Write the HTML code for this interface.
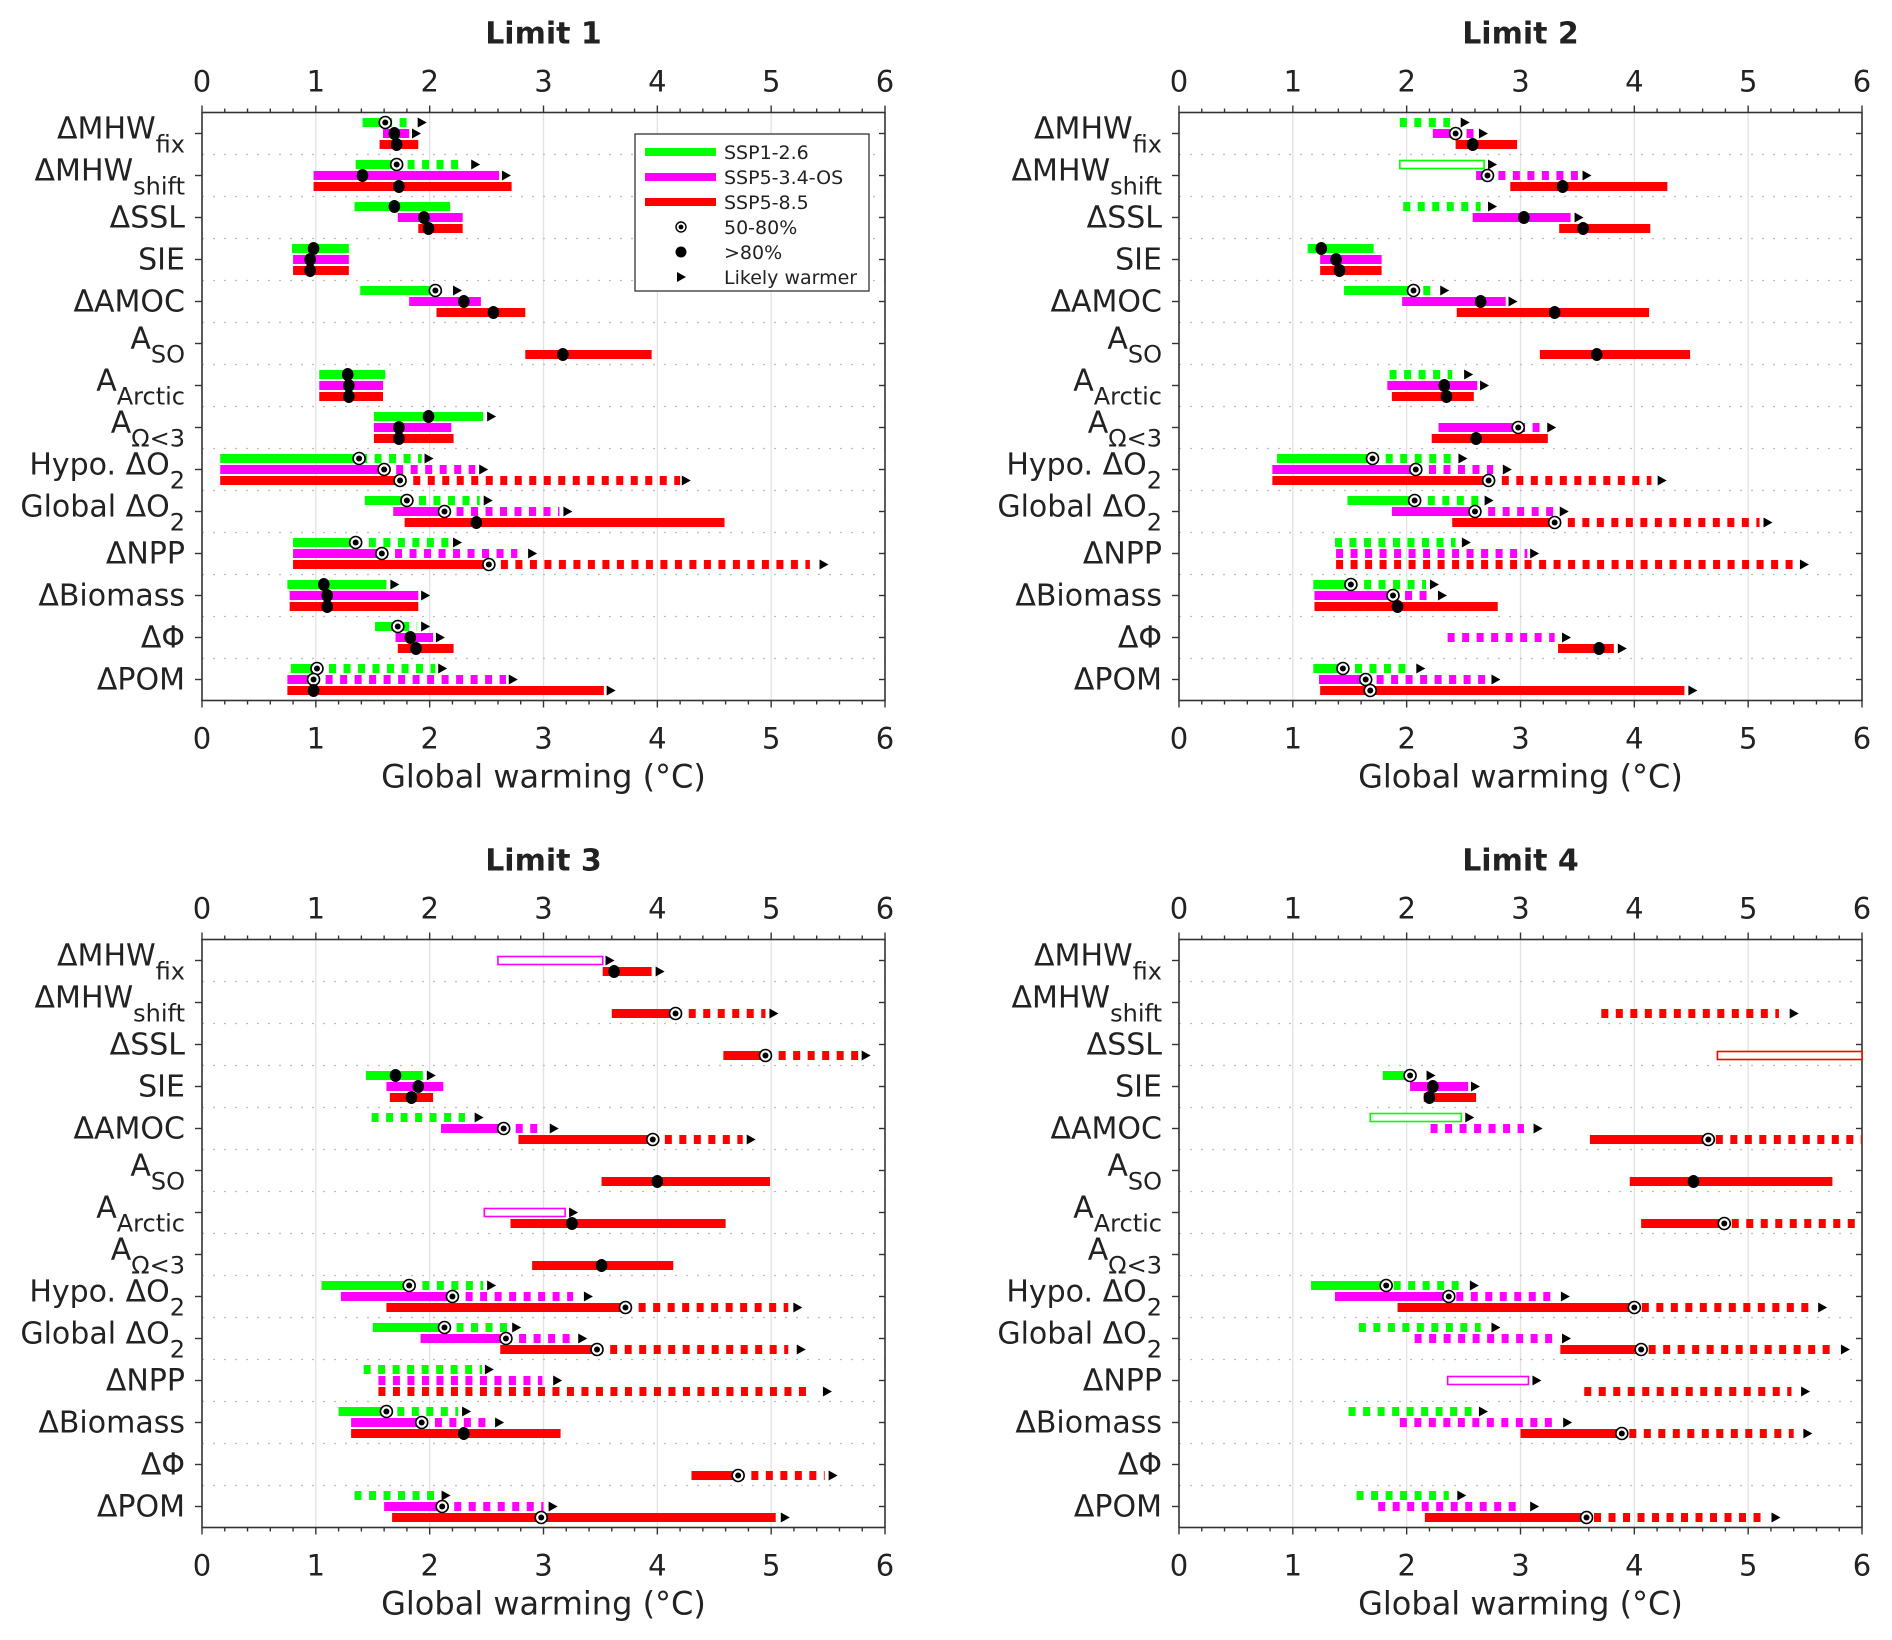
<!DOCTYPE html>
<html><head><meta charset="utf-8">
<style>
html,body{margin:0;padding:0;background:#fff;}
svg{display:block;}
text{font-family:"DejaVu Sans","Liberation Sans",sans-serif;fill:#222;}
</style></head>
<body>
<svg id="fig" width="1892" height="1640" viewBox="0 0 1892 1640" xmlns="http://www.w3.org/2000/svg"></svg>
<script>
const n = null;
const categories = [['ΔMHW','fix'],['ΔMHW','shift'],['ΔSSL'],['SIE'],['ΔAMOC'],['A','SO'],['A','Arctic'],['A','Ω<3'],['Hypo. ΔO','2'],['Global ΔO','2'],['ΔNPP'],['ΔBiomass'],['ΔΦ'],['ΔPOM']];
const scenarios = ['SSP1-2.6','SSP5-3.4-OS','SSP5-8.5'];
const tickLabels = ['0','1','2','3','4','5','6'];
const panelTitles = ['Limit 1','Limit 2','Limit 3','Limit 4'];

// ---- Limit 1 ----
const l1Start = [[1.41,1.59,1.56],[1.35,0.98,0.98],[1.34,1.72,1.90],[0.79,0.80,0.80],[1.39,1.82,2.06],[n,n,2.84],[1.03,1.03,1.03],[1.51,1.51,1.51],[0.16,0.16,0.16],[1.43,1.68,1.78],[0.80,0.80,0.80],[0.75,0.77,0.77],[1.52,1.70,1.72],[0.78,0.75,0.75]];
const l1SolidEnd = [[1.67,1.82,1.90],[1.74,2.61,2.72],[2.18,2.29,2.29],[1.29,1.29,1.29],[2.09,2.45,2.84],[n,n,3.95],[1.61,1.59,1.59],[2.47,2.19,2.21],[1.45,1.64,1.79],[1.84,2.17,4.59],[1.40,1.63,2.56],[1.62,1.90,1.90],[1.82,2.03,2.21],[1.05,1.02,3.53]];
const l1DashEnd = [[1.80,n,n],[2.27,n,n],[n,n,n],[n,n,n],[n,n,n],[n,n,n],[n,n,n],[n,n,n],[1.93,2.40,4.20],[2.44,3.14,n],[2.18,2.77,5.34],[n,n,n],[1.89,n,n],[2.05,2.67,n]];
const l1Marker = [[1.61,1.69,1.71],[1.71,1.41,1.73],[1.69,1.95,1.99],[0.98,0.95,0.95],[2.05,2.30,2.56],[n,n,3.17],[1.28,1.29,1.29],[1.99,1.73,1.73],[1.38,1.60,1.74],[1.80,2.13,2.41],[1.35,1.58,2.52],[1.07,1.10,1.10],[1.72,1.83,1.88],[1.01,0.98,0.98]];
const l1MarkerType = ['odd','odd','ddd','ddd','odd','ddd','ddd','ddd','ooo','ood','ooo','ddd','odd','ood'];
const l1Arrow = [[1.93,1.88,n],[2.40,2.67,n],[n,n,n],[n,n,n],[2.24,n,n],[n,n,n],[n,n,n],[2.54,n,n],[1.99,2.47,4.25],[2.51,3.21,n],[2.24,2.90,5.46],[1.69,1.96,n],[1.96,2.09,n],[2.11,2.73,3.59]];
const l1Hollow = [];

// ---- Limit 2 ----
const l2Start = [[1.94,2.23,2.43],[1.94,2.61,2.91],[1.97,2.58,3.34],[1.13,1.24,1.24],[1.45,1.96,2.44],[n,n,3.17],[1.85,1.83,1.87],[n,2.28,2.22],[0.86,0.82,0.82],[1.48,1.87,2.40],[1.37,1.38,1.38],[1.18,1.19,1.19],[n,2.36,3.33],[1.18,1.23,1.24]];
const l2SolidEnd = [[1.94,2.46,2.97],[2.68,2.74,4.29],[1.97,3.44,4.14],[1.71,1.78,1.78],[2.08,2.87,4.13],[n,n,4.49],[1.85,2.62,2.59],[n,3.04,3.24],[1.75,2.13,2.77],[2.12,2.65,3.35],[1.37,1.38,1.38],[1.56,1.92,2.80],[n,2.36,3.82],[1.48,1.67,4.44]];
const l2DashEnd = [[2.38,2.61,n],[n,3.51,n],[2.65,n,n],[n,n,n],[2.24,n,n],[n,n,n],[2.40,n,n],[n,3.17,n],[2.39,2.76,4.15],[2.63,3.29,5.10],[2.43,3.06,5.42],[2.17,2.19,n],[n,3.30,n],[2.01,2.71,n]];
const l2Marker = [[n,2.43,2.58],[n,2.71,3.37],[n,3.03,3.55],[1.25,1.38,1.41],[2.06,2.65,3.30],[n,n,3.67],[n,2.33,2.35],[n,2.98,2.61],[1.70,2.08,2.72],[2.07,2.60,3.30],[n,n,n],[1.51,1.88,1.92],[n,n,3.69],[1.44,1.64,1.68]];
const l2MarkerType = ['dod','dod','ddd','ddd','odd','ddd','ddd','dod','ooo','ooo','ddd','ood','ddd','ooo'];
const l2Arrow = [[2.51,2.67,n],[2.75,3.58,n],[2.75,3.51,n],[n,n,n],[2.33,2.93,n],[n,n,n],[2.54,2.68,n],[n,3.27,n],[2.49,2.88,4.24],[2.72,3.38,5.17],[2.52,3.12,5.49],[2.24,2.31,n],[n,3.40,3.89],[2.12,2.78,4.51]];
const l2Hollow = [[1,0]];

// ---- Limit 3 ----
const l3Start = [[n,2.60,3.52],[n,n,3.60],[n,n,4.58],[1.44,1.62,1.65],[1.49,2.10,2.78],[n,n,3.51],[n,2.48,2.71],[n,n,2.90],[1.05,1.22,1.62],[1.50,1.92,2.62],[1.42,1.55,1.55],[1.20,1.31,1.31],[n,n,4.30],[1.34,1.60,1.67]];
const l3SolidEnd = [[n,3.52,3.95],[n,n,4.21],[n,n,5.00],[1.94,2.12,2.03],[1.49,2.69,4.00],[n,n,4.99],[n,3.19,4.60],[n,n,4.14],[1.87,2.25,3.77],[2.17,2.72,3.52],[1.42,1.55,1.55],[1.65,1.98,3.15],[n,n,4.76],[1.34,2.15,5.04]];
const l3DashEnd = [[n,n,n],[n,n,4.95],[n,n,5.77],[n,n,n],[2.31,2.96,4.75],[n,n,n],[n,n,n],[n,n,n],[2.47,3.26,5.15],[2.69,3.23,5.15],[2.46,2.99,5.37],[2.25,2.50,n],[n,n,5.47],[2.08,3.00,n]];
const l3Marker = [[n,n,3.62],[n,n,4.16],[n,n,4.95],[1.70,1.90,1.84],[n,2.65,3.96],[n,n,4.00],[n,n,3.25],[n,n,3.51],[1.82,2.20,3.72],[2.13,2.67,3.47],[n,n,n],[1.62,1.93,2.30],[n,n,4.71],[n,2.11,2.98]];
const l3MarkerType = ['ddd','ooo','ooo','ddd','ooo','ddd','ddd','ddd','ooo','ooo','ddd','ood','ooo','ooo'];
const l3Arrow = [[n,3.58,4.02],[n,n,5.02],[n,n,5.83],[2.01,n,n],[2.43,3.09,4.82],[n,n,n],[n,3.26,n],[n,n,n],[2.54,3.39,5.23],[2.76,3.34,5.26],[2.52,3.12,5.49],[2.32,2.61,n],[n,n,5.54],[2.14,3.08,5.12]];
const l3Hollow = [[0,1],[6,1]];

// ---- Limit 4 ----
const l4Start = [[n,n,n],[n,n,3.71],[n,n,4.73],[1.79,2.03,2.15],[1.68,2.21,3.61],[n,n,3.96],[n,n,4.06],[n,n,n],[1.16,1.37,1.92],[1.58,2.07,3.35],[n,2.36,3.56],[1.49,1.94,3.00],[n,n,n],[1.56,1.75,2.16]];
const l4SolidEnd = [[n,n,n],[n,n,3.71],[n,n,6.00],[2.03,2.54,2.61],[2.48,2.21,4.65],[n,n,5.74],[n,n,4.79],[n,n,n],[1.82,2.37,4.00],[1.58,2.07,4.06],[n,3.07,3.56],[1.49,1.94,3.89],[n,n,n],[1.56,1.75,3.58]];
const l4DashEnd = [[n,n,n],[n,n,5.27],[n,n,n],[n,n,n],[n,3.03,6.00],[n,n,n],[n,n,5.97],[n,n,n],[2.50,3.32,5.56],[2.65,3.33,5.76],[n,n,5.38],[2.57,3.33,5.40],[n,n,n],[2.37,3.00,5.14]];
const l4Marker = [[n,n,n],[n,n,n],[n,n,n],[2.03,2.23,2.20],[n,n,4.65],[n,n,4.52],[n,n,4.79],[n,n,n],[1.82,2.37,4.00],[n,n,4.06],[n,n,n],[n,n,3.89],[n,n,n],[n,n,3.58]];
const l4MarkerType = ['ddd','ddd','ddd','odd','ooo','ddd','ooo','ddd','ooo','ooo','ddd','ooo','ddd','ooo'];
const l4Arrow = [[n,n,n],[n,n,5.40],[n,n,n],[2.21,2.60,n],[2.55,3.15,n],[n,n,n],[n,n,n],[n,n,n],[2.59,3.39,5.65],[2.78,3.40,5.85],[n,3.14,5.50],[2.67,3.41,5.52],[n,n,n],[2.48,3.12,5.24]];
const l4Hollow = [[2,2],[4,0],[10,1]];

const panelData = [
  [l1Start,l1SolidEnd,l1DashEnd,l1Marker,l1MarkerType,l1Arrow,l1Hollow],
  [l2Start,l2SolidEnd,l2DashEnd,l2Marker,l2MarkerType,l2Arrow,l2Hollow],
  [l3Start,l3SolidEnd,l3DashEnd,l3Marker,l3MarkerType,l3Arrow,l3Hollow],
  [l4Start,l4SolidEnd,l4DashEnd,l4Marker,l4MarkerType,l4Arrow,l4Hollow]
];
const colors = ['#00ff00','#ff00ff','#ff0000'];

const NS = 'http://www.w3.org/2000/svg';
const svg = document.getElementById('fig');
function mk(tag, attrs, parent) {
  const e = document.createElementNS(NS, tag);
  for (const k in attrs) e.setAttribute(k, attrs[k]);
  (parent || svg).appendChild(e);
  return e;
}

const origins = [[202,112.5],[1179,112.5],[202,939.5],[1179,939.5]];
const W = 683, H = 588, ROWS = 14, RH = H / ROWS;
const offsets = [-11, 0, 11];

panelData.forEach((pd, pi) => {
  const [start, solidEnd, dashEnd, marker, markerType, arrow, hollow] = pd;
  const X0 = origins[pi][0], Y0 = origins[pi][1];
  const xs = v => X0 + v / 6 * W;
  const yc = r => Y0 + (r + 0.5) * RH;
  const g = mk('g', {});
  
  

  const title = mk('text', {x: X0 + W / 2, y: Y0 - 69, 'text-anchor': 'middle', 'font-size': 30, 'font-weight': 'bold'}, g);
  title.textContent = panelTitles[pi];
  
  

  for (let i = 1; i < 6; i++) {
    const gl = mk('line', {x1: xs(i), x2: xs(i), y1: Y0, y2: Y0 + H, stroke: '#e2e2e2', 'stroke-width': 1.3}, g);
    
    
  }
  for (let r = 1; r < ROWS; r++) {
    const sl = mk('line', {x1: X0, x2: X0 + W, y1: Y0 + r * RH, y2: Y0 + r * RH, stroke: '#bdbdbd', 'stroke-width': 1.3, 'stroke-dasharray': '2 9'}, g);
    
    
  }

  const box = mk('rect', {x: X0, y: Y0, width: W, height: H, fill: 'none', stroke: '#333', 'stroke-width': 1.6}, g);
  
  
  for (let i = 0; i <= 30; i++) {
    const x = xs(i / 5), major = i % 5 === 0, len = major ? 7 : 4;
    mk('line', {x1: x, x2: x, y1: Y0, y2: Y0 - len, stroke: '#333', 'stroke-width': 1.4}, g);
    mk('line', {x1: x, x2: x, y1: Y0 + H, y2: Y0 + H + len, stroke: '#333', 'stroke-width': 1.4}, g);
  }
  tickLabels.forEach((t, i) => {
    const tt = mk('text', {x: xs(i), y: Y0 - 21, 'text-anchor': 'middle', 'font-size': 29}, g);
    tt.textContent = t;
    
    
    const tb = mk('text', {x: xs(i), y: Y0 + H + 48, 'text-anchor': 'middle', 'font-size': 29}, g);
    tb.textContent = t;
    
    
  });
  const xl = mk('text', {x: X0 + W / 2, y: Y0 + H + 87, 'text-anchor': 'middle', 'font-size': 32}, g);
  xl.textContent = 'Global warming (°C)';
  
  

  categories.forEach((c, r) => {
    const cy = yc(r);
    mk('line', {x1: X0 - 7, x2: X0, y1: cy, y2: cy, stroke: '#333', 'stroke-width': 1.4}, g);
    mk('line', {x1: X0 + W - 6, x2: X0 + W, y1: cy, y2: cy, stroke: '#333', 'stroke-width': 1.4}, g);
    const t = mk('text', {x: X0 - 17, y: c.length > 1 ? cy + 5 : cy + 10, 'text-anchor': 'end', 'font-size': 30}, g);
    
    
    const m = mk('tspan', {}, t);
    m.textContent = c[0];
    if (c.length > 1) {
      const s = mk('tspan', {dy: 14, 'font-size': 24}, t);
      s.textContent = c[1];
    }
  });

  const isHollow = (r, s) => hollow.some(h => h[0] === r && h[1] === s);
  for (let r = 0; r < ROWS; r++) {
    for (let s = 0; s < 3; s++) {
      const y = yc(r) + offsets[s];
      const a = start[r][s], b = solidEnd[r][s], d = dashEnd[r][s];
      if (a !== null && b !== null) {
        if (isHollow(r, s)) {
          const hb = mk('rect', {x: xs(a), y: y - 4, width: xs(b) - xs(a), height: 8, fill: '#fff', stroke: colors[s], 'stroke-width': 1.6}, g);
          
          
        } else if (b > a) {
          const sb = mk('rect', {x: xs(a), y: y - 4.5, width: xs(b) - xs(a), height: 9, fill: colors[s]}, g);
          
          
        }
      }
      if (d !== null && b !== null) {
        const dl = mk('line', {x1: xs(b), x2: xs(d), y1: y, y2: y, stroke: colors[s], 'stroke-width': 9, 'stroke-dasharray': '7 7.5', 'stroke-dashoffset': (b > a ? 7 : 0)}, g);
        
        
      }
      const ar = arrow[r][s];
      if (ar !== null) {
        const x = xs(ar);
        const tri = mk('polygon', {points: (x - 4) + ',' + (y - 5) + ' ' + (x + 5) + ',' + y + ' ' + (x - 4) + ',' + (y + 5), fill: '#000'}, g);
        
        
      }
    }
  }
  for (let r = 0; r < ROWS; r++) {
    for (let s = 0; s < 3; s++) {
      const v = marker[r][s];
      if (v === null) continue;
      const y = yc(r) + offsets[s], x = xs(v);
      if (markerType[r][s] === 'o') {
        const c1 = mk('circle', {cx: x, cy: y, r: 6, fill: '#fff', stroke: '#000', 'stroke-width': 1.6}, g);
        
        
        mk('circle', {cx: x, cy: y, r: 3, fill: '#000'}, g);
      } else {
        const c2 = mk('ellipse', {cx: x, cy: y, rx: 5.8, ry: 6.5, fill: '#000'}, g);
        
        
      }
    }
  }
});

const lg = mk('g', {});


const lbox = mk('rect', {x: 635, y: 134, width: 234, height: 157, fill: '#fff', stroke: '#333', 'stroke-width': 1.3}, lg);


const legendLabels = ['SSP1-2.6','SSP5-3.4-OS','SSP5-8.5','50-80%','>80%','Likely warmer'];
legendLabels.forEach((lab, i) => {
  const y = 152 + i * 25;
  if (i < 3) {
    mk('line', {x1: 645, x2: 716, y1: y, y2: y, stroke: colors[i], 'stroke-width': 8}, lg);
  } else if (i === 3) {
    mk('circle', {cx: 681, cy: y, r: 5, fill: '#fff', stroke: '#000', 'stroke-width': 1.4}, lg);
    mk('circle', {cx: 681, cy: y, r: 2.4, fill: '#000'}, lg);
  } else if (i === 4) {
    mk('circle', {cx: 681, cy: y, r: 5.5, fill: '#000'}, lg);
  } else {
    mk('polygon', {points: '677,' + (y - 5) + ' 686,' + y + ' 677,' + (y + 5), fill: '#000'}, lg);
  }
  const t = mk('text', {x: 724, y: y + 7, 'font-size': 19}, lg);
  t.textContent = lab;
  
  
});
</script>
</body></html>
